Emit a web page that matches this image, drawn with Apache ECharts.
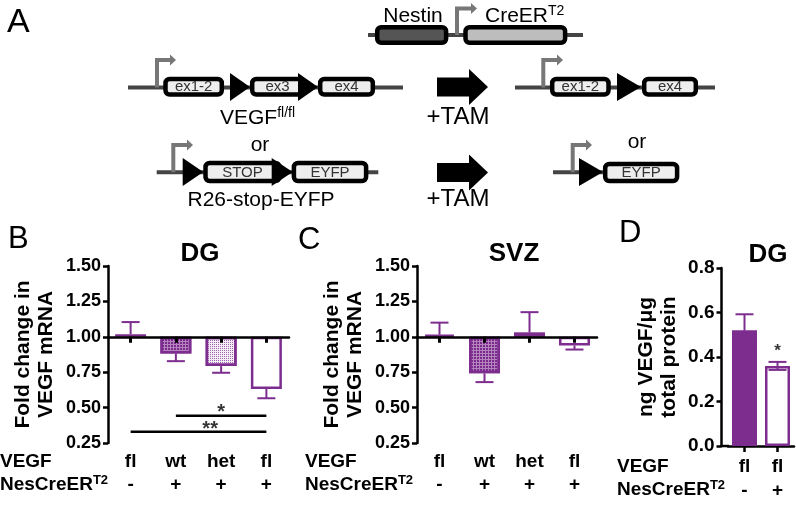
<!DOCTYPE html>
<html><head><meta charset="utf-8">
<script src="https://cdn.jsdelivr.net/npm/echarts@6/dist/echarts.min.js"></script>
<style>html,body{margin:0;padding:0;background:#fff}#c{width:796px;height:510px}</style>
</head><body><div id="c"></div>
<script>
// ---------------- data ----------------
const categories = ['fl', 'wt', 'het', 'fl'];
const creStatus = ['-', '+', '+', '+'];
const dgMrnaMean = [1.018, 0.882, 0.793, 0.631];
const dgMrnaSem = [0.086, 0.054, 0.047, 0.065];
const svzMrnaMean = [1.015, 0.742, 1.030, 0.938];
const svzMrnaSem = [0.085, 0.062, 0.144, 0.028];
const proteinCategories = ['fl', 'fl'];
const proteinCre = ['-', '+'];
const dgProteinMean = [0.52, 0.36];
const dgProteinSem = [0.072, 0.018];
const sigFrom = [1, 0];
const sigTo = [3, 3];
const sigLevel = [0.442, 0.329];
const sigMark = ['*', '**'];
const proteinSigIndex = 1;
const proteinSigMark = '*';

// ---------------- styles ----------------
const PURPLE = '#7d2d8e';
const FONT = '"Liberation Sans", Arial, Helvetica, sans-serif';
const mrnaBarStyles = [
  { color: '#ffffff' },
  { color: '#b584bf', decal: { symbol: 'rect', symbolSize: 1, dashArrayX: [2, 1], dashArrayY: [2, 1], color: '#7a2a8b' } },
  { color: '#f4edf6', decal: { symbol: 'rect', symbolSize: 1, dashArrayX: [1, 1], dashArrayY: [1, 1], color: '#a066ad' } },
  { color: '#ffffff' }
];
const proteinBarStyles = [{ color: PURPLE }, { color: '#ffffff' }];

const axisLineStyle = { color: '#000', width: 2.5 };
const tickLabel = { color: '#000', fontSize: 18, fontWeight: 'bold', fontFamily: FONT };
const nameStyle = { color: '#000', fontSize: 21, fontWeight: 'bold', fontFamily: FONT, lineHeight: 23 };

function errRender(both) {
  return function (params, api) {
    const x = api.value(0), m = api.value(1), s = api.value(2);
    const base = api.value(3);
    const up = m >= base;
    const tips = both ? [m + s, m - s] : [up ? m + s : m - s];
    const p0 = api.coord([x, m]);
    const children = [];
    tips.forEach(function (t) {
      const p1 = api.coord([x, t]);
      children.push({ type: 'line', shape: { x1: p0[0], y1: p0[1], x2: p1[0], y2: p1[1] }, style: { stroke: PURPLE, lineWidth: 2 } });
      children.push({ type: 'line', shape: { x1: p1[0] - 9, y1: p1[1], x2: p1[0] + 9, y2: p1[1] }, style: { stroke: PURPLE, lineWidth: 2 } });
    });
    return { type: 'group', children: children };
  };
}

function mrnaXAxes(grid) {
  return [
    { gridIndex: grid, type: 'category', data: categories, position: 'bottom', z: 5,
      axisLine: { onZero: true, lineStyle: axisLineStyle },
      axisTick: { show: true, alignWithLabel: true, length: 6, lineStyle: { color: '#000', width: 3 } },
      axisLabel: { show: false }, splitLine: { show: false } },
    { gridIndex: grid, type: 'category', data: categories, position: 'bottom',
      axisLine: { show: false, onZero: false }, axisTick: { show: false }, splitLine: { show: false },
      axisLabel: { color: '#000', fontSize: 19, fontWeight: 'bold', fontFamily: FONT, lineHeight: 23, margin: 7,
        formatter: function (v, i) { return v + '\n' + creStatus[i]; } } }
  ];
}
function mrnaYAxis(grid) {
  return { gridIndex: grid, type: 'value', min: -0.75, max: 0.5, interval: 0.25,
    name: 'Fold change in\nVEGF mRNA', nameLocation: 'middle', nameRotate: 90, nameGap: 50, nameTextStyle: nameStyle,
    axisLine: { show: true, lineStyle: axisLineStyle },
    axisTick: { show: true, length: 5, lineStyle: { color: '#000', width: 2.5 } },
    axisLabel: Object.assign({ margin: 7, formatter: function (v) { return (v + 1).toFixed(2); } }, tickLabel),
    splitLine: { show: false } };
}
function mrnaSeries(xIdx, yIdx, means, sems) {
  return [
    { type: 'bar', xAxisIndex: xIdx, yAxisIndex: yIdx, barWidth: 31, z: 2,
      itemStyle: { borderColor: PURPLE, borderWidth: 2.5 },
      data: means.map(function (v, i) { return { value: v - 1, itemStyle: mrnaBarStyles[i] }; }) },
    { type: 'custom', xAxisIndex: xIdx, yAxisIndex: yIdx, z: 3, encode: { x: 0, y: 1 },
      renderItem: errRender(false),
      data: means.map(function (v, i) { return [i, v - 1, sems[i], 0]; }) }
  ];
}

const series = [];
mrnaSeries(0, 0, dgMrnaMean, dgMrnaSem).forEach(function (s) { series.push(s); });
mrnaSeries(2, 1, svzMrnaMean, svzMrnaSem).forEach(function (s) { series.push(s); });
// significance lines for DG
sigLevel.forEach(function (lvl, k) {
  series.push({ type: 'line', xAxisIndex: 0, yAxisIndex: 0, symbol: 'none', silent: true, z: 4,
    lineStyle: { color: '#000', width: 2.5 },
    data: categories.map(function (c, i) { return (i >= sigFrom[k] && i <= sigTo[k]) ? lvl - 1 : '-'; }) });
});
series.push({ type: 'scatter', xAxisIndex: 0, yAxisIndex: 0, symbolSize: 0, z: 4,
  data: sigLevel.map(function (lvl, k) { return { value: [2, lvl - 1], label: { formatter: sigMark[k], offset: k === 0 ? [0, -3] : [-11, -2] } }; }),
  label: { show: true, position: 'inside', color: '#000', fontSize: 20, fontWeight: 'bold', fontFamily: FONT } });
// protein panel
series.push({ type: 'bar', xAxisIndex: 4, yAxisIndex: 2, barWidth: 25, z: 2,
  itemStyle: { borderColor: PURPLE, borderWidth: 2.5 },
  data: dgProteinMean.map(function (v, i) { return { value: v, itemStyle: proteinBarStyles[i] }; }) });
series.push({ type: 'custom', xAxisIndex: 4, yAxisIndex: 2, z: 3, encode: { x: 0, y: 1 },
  renderItem: errRender(true),
  data: dgProteinMean.map(function (v, i) { return [i, v, dgProteinSem[i], 0]; }) });
series.push({ type: 'scatter', xAxisIndex: 4, yAxisIndex: 2, symbolSize: 0, z: 4,
  data: [[proteinSigIndex, dgProteinMean[proteinSigIndex] + dgProteinSem[proteinSigIndex]]],
  label: { show: true, position: 'inside', formatter: proteinSigMark, offset: [0, -11], color: '#000', fontSize: 17, fontWeight: 'bold', fontFamily: FONT } });

// ---------------- diagram (panel A) & annotations ----------------
const G = [];
function txt(x, y, text, size, opts) {
  G.push({ type: 'text', z: 20, style: Object.assign({ x: x, y: y, text: text, fill: '#000', fontSize: size, fontFamily: FONT,
    textAlign: 'center', textVerticalAlign: 'middle' }, opts || {}) });
}
function richTxt(x, y, main, sup, size, supSize, weight, align) {
  G.push({ type: 'text', z: 20, style: { x: x, y: y, text: '{a|' + main + '}{s|' + sup + '}', textAlign: align || 'left', textVerticalAlign: 'middle',
    rich: { a: { fontSize: size, fontWeight: weight, fontFamily: FONT, fill: '#000', color: '#000', lineHeight: size + 3 },
            s: { fontSize: supSize, fontWeight: weight, fontFamily: FONT, fill: '#000', color: '#000', verticalAlign: 'top', lineHeight: supSize - 2 } } } });
}
function dline(x1, y1, x2, y2, color, w) {
  G.push({ type: 'line', z: 10, shape: { x1: x1, y1: y1, x2: x2, y2: y2 }, style: { stroke: color, lineWidth: w } });
}
function box(x1, y1, x2, y2, fill, label) {
  G.push({ type: 'rect', z: 12, shape: { x: x1 + 2.2, y: y1 + 2.2, width: x2 - x1 - 4.4, height: y2 - y1 - 4.4, r: 4 },
    style: { fill: fill, stroke: '#000', lineWidth: 4.5 } });
  if (label) txt((x1 + x2) / 2, (y1 + y2) / 2 + 0.5, label, 15, { fill: '#333' });
}
function tri(x1, x2, y1, y2) {
  G.push({ type: 'polygon', z: 13, shape: { points: [[x1, y1], [x2, (y1 + y2) / 2], [x1, y2]] }, style: { fill: '#000' } });
}
function promoter(x, yb, yt, xe) {
  G.push({ type: 'polyline', z: 11, shape: { points: [[x, yb], [x, yt], [xe, yt]] }, style: { stroke: '#777', lineWidth: 4, fill: null } });
  G.push({ type: 'polygon', z: 11, shape: { points: [[xe, yt - 5.5], [xe + 6, yt], [xe, yt + 5.5]] }, style: { fill: '#777' } });
}
function bigArrow(x1, xm, x2, yc) {
  G.push({ type: 'polygon', z: 10, shape: { points: [[x1, yc - 9.5], [xm, yc - 9.5], [xm, yc - 18], [x2, yc], [xm, yc + 18], [xm, yc + 9.5], [x1, yc + 9.5]] },
    style: { fill: '#000' } });
}
// Nestin-CreER transgene
dline(368, 35, 583, 35, '#444', 4);
promoter(457, 35, 8.5, 471);
box(375, 25, 448.3, 45, '#555');
box(463.3, 25, 567.3, 45, '#bdbdbd');
txt(413, 16, 'Nestin', 21);
richTxt(485, 16, 'CreER', 'T2', 21, 14, 'normal');
// VEGF fl/fl
dline(128, 87.5, 403, 87.5, '#444', 4);
promoter(157, 87.5, 60, 170);
box(163.3, 76.7, 224, 96.7, '#eee', 'ex1-2');
box(250, 76.7, 305, 96.7, '#eee', 'ex3');
box(318, 76.7, 375, 96.7, '#eee', 'ex4');
tri(230, 250, 73, 101);
tri(298, 318, 73, 101);
richTxt(220, 118, 'VEGF', 'fl/fl', 21, 14, 'normal');
txt(260, 145, 'or', 21);
// R26-stop-EYFP
dline(156.7, 172.3, 378.3, 172.3, '#444', 4);
promoter(173.3, 172.3, 145, 187);
box(203.3, 160.7, 281.7, 183.3, '#eee', 'STOP');
box(291.7, 160.7, 368.3, 183.3, '#eee', 'EYFP');
tri(182.7, 203.3, 158, 186);
tri(271.7, 292.7, 158, 186);
txt(261, 200, 'R26-stop-EYFP', 21);
// TAM arrows
bigArrow(437, 469, 488, 87);
bigArrow(437, 469, 488, 172.5);
txt(458, 117, '+TAM', 24);
txt(458, 199, '+TAM', 24);
// recombined alleles
dline(515, 87.5, 715, 87.5, '#444', 4);
promoter(543.3, 87.5, 60, 557);
box(550, 76.7, 610.7, 96.7, '#eee', 'ex1-2');
box(642, 76.7, 698, 96.7, '#eee', 'ex4');
tri(617, 641, 73, 101);
txt(637, 142, 'or', 21);
dline(553, 172.3, 610, 172.3, '#444', 4);
promoter(572.7, 172.3, 145, 586);
box(603, 161.7, 679.3, 183.3, '#eee', 'EYFP');
tri(579, 603, 158, 186);
// panel letters
txt(7, 23, 'A', 34, { textAlign: 'left' });
txt(8, 239, 'B', 31, { textAlign: 'left' });
txt(298, 240.5, 'C', 31, { textAlign: 'left' });
txt(619, 233, 'D', 31, { textAlign: 'left' });
// panel titles
txt(200, 254, 'DG', 26, { fontWeight: 'bold' });
txt(514, 254, 'SVZ', 26, { fontWeight: 'bold' });
txt(768, 255, 'DG', 26, { fontWeight: 'bold' });
// row labels
txt(0, 462, 'VEGF', 19, { fontWeight: 'bold', textAlign: 'left' });
richTxt(0, 485, 'NesCreER', 'T2', 19, 13, 'bold');
txt(305, 462, 'VEGF', 19, { fontWeight: 'bold', textAlign: 'left' });
richTxt(305, 485, 'NesCreER', 'T2', 19, 13, 'bold');
txt(617, 467, 'VEGF', 19, { fontWeight: 'bold', textAlign: 'left' });
richTxt(617, 490, 'NesCreER', 'T2', 19, 13, 'bold');
// short x-axis piece of panel D joining the offset y axis
dline(721, 446, 729, 446, '#000', 2.5);

const option = {
  animation: false,
  backgroundColor: '#fff',
  grid: [
    { left: 108, top: 266, width: 181, height: 177 },
    { left: 417, top: 266, width: 180, height: 177 },
    { left: 728, top: 268, width: 66, height: 178 }
  ],
  xAxis: mrnaXAxes(0).concat(mrnaXAxes(1)).concat([
    { gridIndex: 2, type: 'category', data: proteinCategories, position: 'bottom',
      axisLine: { lineStyle: axisLineStyle },
      axisTick: { show: true, alignWithLabel: true, length: 6, lineStyle: { color: '#000', width: 2.5 } },
      axisLabel: { color: '#000', fontSize: 19, fontWeight: 'bold', fontFamily: FONT, lineHeight: 24, margin: 9,
        formatter: function (v, i) { return v + '\n' + proteinCre[i]; } },
      splitLine: { show: false } }
  ]),
  yAxis: [
    mrnaYAxis(0),
    mrnaYAxis(1),
    { gridIndex: 2, type: 'value', min: 0, max: 0.8, interval: 0.2, offset: 6.5,
      name: 'ng VEGF/\u03bcg\ntotal protein', nameLocation: 'middle', nameRotate: 90, nameGap: 41, nameTextStyle: nameStyle,
      axisLine: { show: true, lineStyle: axisLineStyle },
      axisTick: { show: true, length: 5, lineStyle: { color: '#000', width: 2.5 } },
      axisLabel: Object.assign({ margin: 7, formatter: function (v) { return v.toFixed(1); } }, tickLabel, { fontSize: 19 }),
      splitLine: { show: false } }
  ],
  series: series,
  graphic: G
};
const chart = echarts.init(document.getElementById('c'), null, { renderer: 'canvas' });
chart.setOption(option);
</script>
</body></html>
